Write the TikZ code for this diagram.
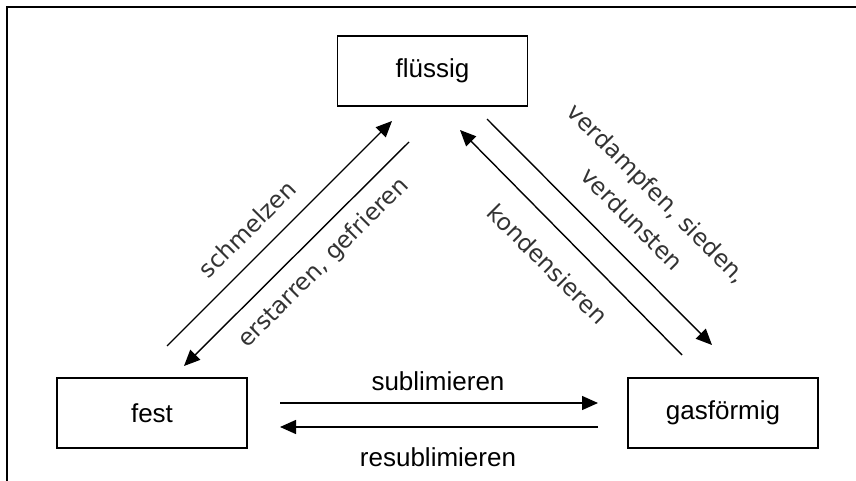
\documentclass[tikz,border=0pt]{standalone}
\usepackage{fontspec}
\setmainfont{Liberation Sans}
\newfontfamily\lblfont{DejaVu Sans}
\usetikzlibrary{arrows.meta}
\begin{document}
\begin{tikzpicture}[x=1pt,y=-1pt,
  statebox/.style={draw=black,line width=1.8pt,minimum width=190pt,minimum height=70pt,inner sep=0pt,
    font=\fontsize{26}{30}\selectfont},
  trans/.style={line width=1.4pt,-{Triangle[length=16pt,width=14pt]}},
  plain/.style={font=\fontsize{26}{30}\selectfont},
  rot/.style={font=\lblfont\fontsize{23.5}{30}\selectfont,text=black!80,align=center,inner sep=0pt}]
\useasboundingbox (0,0) rectangle (856,481);
\fill[white] (0,0) rectangle (856,481);
\draw[line width=2.2pt] (7,481) -- (7,7) -- (856,7);
% states
\node[statebox] (fl) at (432.5,71) {flüssig};
\node[statebox] (fe) at (152,413) {fest};
\node[statebox] (ga) at (723,413) {gasförmig};
% endpoints
\coordinate (s1) at (167,346); \coordinate (s2) at (392,121);
\coordinate (e1) at (409,142); \coordinate (e2) at (184,366);
\coordinate (k1) at (682,355); \coordinate (k2) at (460,130);
\coordinate (v1) at (487,119); \coordinate (v2) at (712,345);
\coordinate (u1) at (280,403); \coordinate (u2) at (598,403);
\coordinate (r1) at (598,427); \coordinate (r2) at (280,427);
\draw[trans] (s1) -- (s2);
\draw[trans] (e1) -- (e2);
\draw[trans] (k1) -- (k2);
\draw[trans] (v1) -- (v2);
\draw[trans] (u1) -- (u2);
\draw[trans] (r1) -- (r2);
% labels
\node[rot,rotate=45] (ls) at (247,229) {schmelzen};
\node[rot,rotate=45] (le) at (324,263) {erstarren, gefrieren};
\node[rot,rotate=-45] (lk) at (548,264) {kondensieren};
\node[rot,rotate=-45] (lv) at (645,206) {verdampfen, sieden,\\[6pt]verdunsten};
\node[plain,anchor=base] (lu) at (438,390) {sublimieren};
\node[plain,anchor=base] (lr) at (438,466) {resublimieren};
\end{tikzpicture}
\end{document}
